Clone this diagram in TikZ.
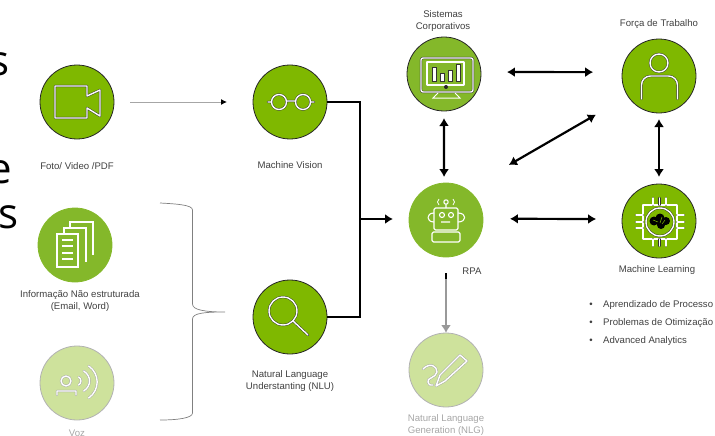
\documentclass[tikz,border=0pt]{standalone}
\usepackage{fontspec}
\setmainfont{Liberation Sans}
\newfontfamily\bigfont{Open Sans}
\usetikzlibrary{arrows.meta}
\definecolor{vivid}{HTML}{7FB800}
\definecolor{leaf}{HTML}{84B82A}
\definecolor{pale}{HTML}{CEE29C}
\definecolor{inkgray}{HTML}{404040}
\tikzset{
  stage/.style={circle,minimum size=74pt,inner sep=0pt,outer sep=0pt,fill=vivid,draw=black!85,line width=.8pt},
  softstage/.style={stage,fill=leaf,draw=leaf},
  dimstage/.style={stage,fill=pale,draw=black!30},
  caption/.style={font=\fontsize{9.6}{12}\selectfont,text=inkgray,align=center,inner sep=0pt},
  dimcaption/.style={caption,text=black!35},
  outline/.style={draw=black!80,double=white,double distance=1.4pt,line width=.45pt,line join=round,line cap=round},
  dimoutline/.style={outline,draw=black!35},
  plainline/.style={draw=white,line width=1.1pt,line join=round},
  link/.style={{Latex[length=8pt,width=10pt]}-{Latex[length=8pt,width=10pt]},line width=2.2pt},
  bus/.style={line width=2.4pt,line join=miter}
}
\begin{document}
\begin{tikzpicture}[x=1pt,y=-1pt]
  \useasboundingbox (0,0) rectangle (715,436);
  \clip (0,0) rectangle (715,436);
  % cut off letters of the slide behind
  \node[anchor=base west,inner sep=0pt,font=\bigfont\fontsize{42}{42}\selectfont] (ltr1) at (-11,75) {s};
  \node[anchor=base west,inner sep=0pt,font=\bigfont\fontsize{42}{42}\selectfont] (ltr2) at (-12,183) {e};
  \node[anchor=base west,inner sep=0pt,font=\bigfont\fontsize{42}{42}\selectfont] (ltr3) at (-2,228) {s};

  \node[stage] (video) at (77,102) {};
  \node[stage] (vision) at (290,102) {};
  \node[softstage] (info) at (75,245) {};
  \node[dimstage] (voz) at (77,383) {};
  \node[stage] (nlu) at (290,317) {};
  \node[stage,fill=leaf] (sist) at (444,74) {};
  \node[stage] (forca) at (659,76) {};
  \node[softstage] (rpa) at (446,220) {};
  \node[stage] (ml) at (659,221) {};
  \node[dimstage] (nlg) at (446,370) {};

  \node[caption] (videolbl) at (77,166) {Foto/ Video /PDF};
  \node[caption] (visionlbl) at (290,165) {Machine Vision};
  \node[caption] (infolbl) at (80,301) {Informação Não estruturada\\(Email, Word)};
  \node[dimcaption] (vozlbl) at (77,433) {Voz};
  \node[caption] (nlulbl) at (290,381.5) {Natural Language\\Understanting (NLU)};
  \node[caption] (sistlbl) at (443,21) {Sistemas\\Corporativos};
  \node[caption] (forcalbl) at (659,24) {Força de Trabalho};
  \node[caption] (rpalbl) at (472,271) {RPA};
  \node[caption] (mllbl) at (657,270) {Machine Learning};
  \node[dimcaption] (nlglbl) at (446,425) {Natural Language\\Generation (NLG)};

  \foreach \y/\txt [count=\i] in {305/Aprendizado de Processo,323/Problemas de Otimização,341/Advanced Analytics} {
    \node[caption] (dot\i) at (591,\y) {•};
    \node[caption,anchor=west] (item\i) at (603,\y) {\txt};
  }

  % connectors
  \path[-{Latex[black,length=6pt,width=6pt]},draw=black!35,line width=1pt]
        (video) edge[shorten <=16pt,shorten >=26pt] (vision);
  \coordinate (junc) at (360,219);
  \draw[bus] (vision.east) -| (junc);
  \draw[bus] (nlu.east) -| (junc);
  \draw[-{Latex[length=8pt,width=10pt]},line width=2.4pt,shorten >=16pt] (junc) -- (junc -| rpa.west);
  \path[link]
        (sist.3) edge[shorten <=26pt,shorten >=29pt] (forca.174)
        (sist.south) edge[shorten <=7pt,shorten >=6pt] (rpa.93)
        (forca.south) edge[shorten <=6pt,shorten >=7pt] (ml.north)
        (rpa.2) edge[shorten <=27pt,shorten >=26pt] (ml.177)
        (forca.213.6) edge[shorten <=37pt,shorten >=48.7pt] (rpa.56);
  \coordinate (stub) at (446,279);
  \draw[line width=2.2pt,shorten <=16pt] (rpa.south) -- (stub);
  \draw[-{Latex[length=8pt,width=10pt]},draw=black!40,line width=2.2pt] (stub) -- (nlg.north);

  % brace
  \draw[black!50,line width=.7pt] (160,203) .. controls (178,204) and (192.5,205) .. (192.5,210)
        -- (192.5,304) .. controls (192.5,310) and (205,312) .. (225,312)
        .. controls (205,312) and (192.5,313) .. (192.5,319)
        -- (192.5,413) .. controls (192.5,418) and (178,420) .. (160,420);

  % video icon
  \draw[outline] (55,86) -- (87,86) -- (87,96) -- (100,90) -- (100,116) -- (87,108) -- (87,118) -- (55,118) -- cycle;
  % glasses icon
  \draw[outline] (279,102) circle (7.5) (303,102) circle (7.5)
        (286.5,101) -- (295.5,101) (271.5,102) -- (268,102) (310.5,102) -- (314,102);
  % magnifier icon
  \draw[outline] (283,311) circle (14) (293,321) -- (308,335);
  % monitor icon
  \draw[outline,rounded corners=2pt] (421,58) rectangle (473,92);
  \draw[outline] (427,62) rectangle (464,85);
  \foreach \x/\top in {432/67,440/73,448/70,456/64}
    \draw[fill=white,draw=black!80,line width=.5pt] (\x,\top) rectangle (\x+4,81);
  \fill[black!85] (446,87) circle (2);
  \draw[white,line width=1pt] (438,93) -- (433,98) -- (460,98) -- (455,93);
  % person icon
  \draw[outline] (659,63) circle (9);
  \draw[outline,rounded corners=9pt] (641.5,99) -- (641.5,76) -- (677.5,76) -- (677.5,99);
  % robot icon
  \draw[plainline,rounded corners=1.5pt] (434,208) rectangle (458,230) (432,232) rectangle (460,242);
  \draw[plainline] (442,215) circle (2.5) (451,215) circle (2.5) (441,222) -- (450,222)
        (446,204) -- (446,208) (446,202) circle (2.2)
        (434,213) .. controls (426,213) and (426,222) .. (434,222)
        (458,213) .. controls (467,213) and (467,222) .. (458,222);
  \draw[white,line width=.8pt] (439,199) .. controls (437,201) and (437,203) .. (439,205)
        (453,199) .. controls (455,201) and (455,203) .. (453,205);
  % chip icon
  \draw[outline] (643,205) rectangle (677,239);
  \foreach \p in {653,659.5,666} {
    \draw[outline] (\p,205) -- (\p,198);
    \draw[outline] (\p,239) -- (\p,246);
  }
  \foreach \p in {215,222,228} {
    \draw[outline] (643,\p) -- (636,\p);
    \draw[outline] (677,\p) -- (684,\p);
  }
  \draw[outline,fill=vivid] (660,222) circle (14);
  \fill[black] (654,221) circle (4.5) (660,218) circle (4.5) (666,221) circle (4) (661,225) circle (4);
  \draw[vivid,line width=.5pt] (653,220) -- (658,222) (662,217) -- (660,223) (665,220) -- (662,224);
  % pages icon
  \draw[white,line width=2pt] (57,234) rectangle (78,267);
  \foreach \y in {240,246,253,259}
    \draw[white,line width=2pt] (62,\y) -- (73,\y);
  \draw[white,line width=2pt] (64,233) -- (64,228) -- (86,228) -- (86,262);
  \draw[white,line width=2pt] (70,227) -- (70,222) -- (93,222) -- (93,255);
  % voice icon
  \draw[dimoutline] (66,381) circle (5) (57,395) -- (57,391) -- (76,391) -- (76,395)
        (78.7,377) .. controls (81.7,379) and (81.7,383) .. (78.7,385)
        (83.7,371) .. controls (91.5,376) and (91.5,386) .. (83.7,391)
        (88.7,366) .. controls (100,374) and (100,390) .. (88.7,398);
  % pen icon
  \draw[dimoutline] (436,386) -- (440,375) -- (460,355) -- (467,361) -- (445,381) -- cycle;
  \draw[dimoutline] (423,369) .. controls (430,362) and (437,366) .. (437,372)
        .. controls (436,378) and (426,378) .. (428,382) .. controls (429,385) .. (433,385);
\end{tikzpicture}
\end{document}
